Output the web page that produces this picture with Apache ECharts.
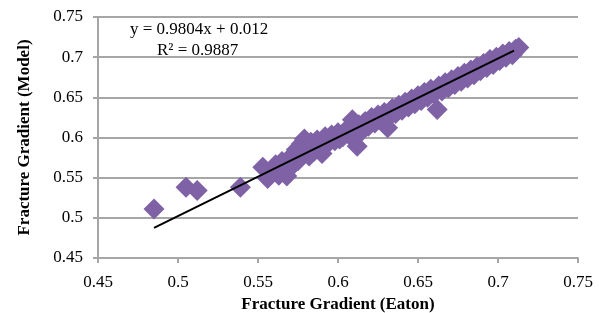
<!DOCTYPE html>
<html>
<head>
<meta charset="utf-8">
<script src="https://cdn.jsdelivr.net/npm/echarts@6/dist/echarts.min.js"></script>
<style>
  html, body { margin: 0; padding: 0; background: #fff; }
  #chart { width: 599px; height: 313px; }
</style>
</head>
<body>
<div id="chart"></div>
<script>
// Eaton vs model fracture gradient
const eaton = [
  0.485, 0.505, 0.512, 0.539,
  0.553, 0.556, 0.558, 0.561, 0.563, 0.565, 0.567, 0.568, 0.570, 0.572,
  0.574, 0.575, 0.577, 0.578, 0.579, 0.580, 0.582, 0.583, 0.585, 0.587,
  0.589, 0.590, 0.592, 0.594, 0.596, 0.598, 0.600, 0.601, 0.603, 0.605,
  0.607, 0.609, 0.610, 0.612, 0.613, 0.615, 0.617, 0.619, 0.621, 0.623,
  0.625, 0.627, 0.629, 0.631, 0.632, 0.634, 0.636, 0.638, 0.640, 0.642,
  0.644, 0.646, 0.648, 0.650, 0.652, 0.654, 0.656, 0.658, 0.660, 0.662,
  0.663, 0.665, 0.667, 0.669, 0.671, 0.673, 0.675, 0.677, 0.679, 0.681,
  0.683, 0.685, 0.687, 0.689, 0.691, 0.693, 0.695, 0.697, 0.699, 0.701,
  0.703, 0.705, 0.707, 0.709, 0.711, 0.713, 0.710
]
const model = [
  0.511, 0.538, 0.534, 0.538,
  0.563, 0.549, 0.556, 0.566, 0.553, 0.570, 0.558, 0.552, 0.575, 0.566,
  0.585, 0.571, 0.592, 0.579, 0.598, 0.586, 0.577, 0.594, 0.583, 0.597,
  0.590, 0.580, 0.601, 0.593, 0.603, 0.596, 0.606, 0.598, 0.601, 0.609,
  0.603, 0.622, 0.612, 0.589, 0.616, 0.608, 0.620, 0.614, 0.625, 0.618,
  0.628, 0.621, 0.631, 0.612, 0.626, 0.636, 0.630, 0.640, 0.634, 0.644,
  0.638, 0.648, 0.642, 0.652, 0.646, 0.656, 0.650, 0.660, 0.654, 0.635,
  0.664, 0.658, 0.668, 0.662, 0.672, 0.666, 0.676, 0.670, 0.680, 0.674,
  0.684, 0.678, 0.688, 0.683, 0.692, 0.687, 0.697, 0.691, 0.700, 0.696,
  0.704, 0.700, 0.707, 0.703, 0.710, 0.712, 0.706
]

// linear trendline
const slope = 0.9804
const intercept = 0.012
const trendX = [0.485, 0.71]

const serif = '"Liberation Serif", "DejaVu Serif", serif'
const gridColor = '#a6a6a6'

const chart = echarts.init(document.getElementById('chart'))
chart.setOption({
  animation: false,
  grid: {
    left: 98,
    right: 21,
    top: 17,
    bottom: 55,
    outerBoundsMode: 'none'
  },
  xAxis: {
    type: 'value',
    min: 0.45,
    max: 0.75,
    interval: 0.05,
    name: 'Fracture Gradient (Eaton)',
    nameLocation: 'middle',
    nameGap: 36,
    nameTextStyle: { fontFamily: serif, fontSize: 17, fontWeight: 'bold', color: '#000' },
    axisLine: { show: true, lineStyle: { color: gridColor, width: 2 } },
    axisTick: { show: true, length: 5, lineStyle: { color: gridColor, width: 2 } },
    axisLabel: { fontFamily: serif, fontSize: 17, color: '#000', margin: 16 },
    splitLine: { show: false }
  },
  yAxis: {
    type: 'value',
    min: 0.45,
    max: 0.75,
    interval: 0.05,
    name: 'Fracture Gradient (Model)',
    nameLocation: 'middle',
    nameGap: 65,
    nameTextStyle: { fontFamily: serif, fontSize: 17, fontWeight: 'bold', color: '#000' },
    axisLine: { show: true, lineStyle: { color: gridColor, width: 2 } },
    axisTick: { show: true, length: 5, lineStyle: { color: gridColor, width: 2 } },
    axisLabel: { fontFamily: serif, fontSize: 17, color: '#000', margin: 15 },
    splitLine: { show: true, lineStyle: { color: gridColor, width: 2 } }
  },
  graphic: [
    {
      type: 'text',
      left: 130,
      top: 21,
      style: { text: 'y = 0.9804x + 0.012', font: '17px ' + serif, fill: '#000' }
    },
    {
      type: 'text',
      left: 157,
      top: 42,
      style: { text: 'R² = 0.9887', font: '17px ' + serif, fill: '#000' }
    }
  ],
  series: [
    {
      type: 'scatter',
      symbol: 'diamond',
      symbolSize: 21,
      itemStyle: { color: '#7f62a6', opacity: 1 },
      data: eaton.map((x, i) => [x, model[i]]),
      z: 2
    },
    {
      type: 'line',
      symbol: 'none',
      lineStyle: { color: '#000', width: 2 },
      data: trendX.map(x => [x, slope * x + intercept]),
      z: 3
    }
  ]
})
</script>
</body>
</html>
